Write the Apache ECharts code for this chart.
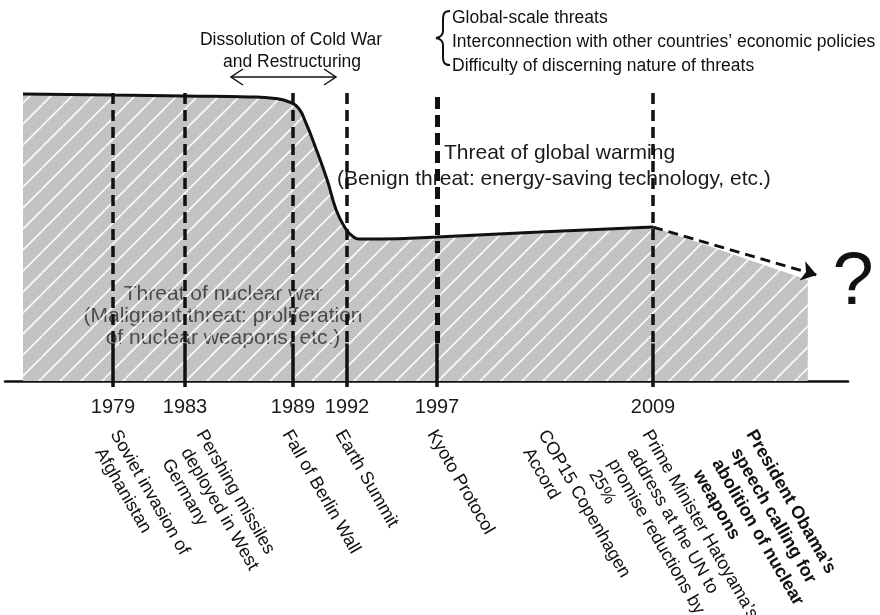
<!DOCTYPE html>
<html><head><meta charset="utf-8">
<script src="https://cdn.jsdelivr.net/npm/echarts@6/dist/echarts.min.js"></script>
<style>html,body{margin:0;padding:0;background:#fff}#c{width:880px;height:615px}</style>
</head><body><div id="c"></div>
<script>
// ---------------- data ----------------
const curveYears  = [1974, 1979, 1983, 1986.6, 1988, 1988.8, 1989.3, 1989.7, 1990.2, 1990.9, 1991.4, 1991.9, 1992.3, 1992.8, 1993.8, 1997, 2002.7, 2009];
const curveValues = [95.7, 95.3, 95.0, 94.7, 94.2, 93.0, 91.0, 86.3, 78.7, 67.0, 57.0, 51.0, 48.3, 47.3, 47.3, 48.0, 49.7, 51.3];
const futureYears  = [2009, 2017.6];
const futureValues = [51.3, 33.7];
const projectionYears  = [2009, 2018.1];
const projectionValues = [51.3, 35.3];
const markerYears = [1979, 1983, 1989, 1992, 1997, 2009];
const yearTickLabels = ['1979', '1983', '1989', '1992', '1997', '2009'];
const eventYears = [1979, 1983, 1989, 1992, 1997, 2009, 2009, 2009];
const eventLabels = [
  'Soviet invasion of\nAfghanistan',
  'Pershing missiles\ndeployed in West\nGermany',
  'Fall of Berlin Wall',
  'Earth Summit',
  'Kyoto Protocol',
  'COP15 Copenhagen\nAccord',
  'Prime Minister Hatoyama\u2019s\naddress at the UN to\npromise reductions by\n25%',
  'President Obama\u2019s\nspeech calling for\nabolition of nuclear\nweapons'
];
const eventBold = [false, false, false, false, false, false, false, true];
const nuclearText = ['Threat of nuclear war', '(Malignant threat: proliferation', 'of nuclear weapons, etc.)'];
const warmingText = ['Threat of global warming', '(Benign threat: energy-saving technology, etc.)'];
const coldWarText = ['Dissolution of Cold War', 'and Restructuring'];
const threatNotes = ['Global-scale threats', 'Interconnection with other countries\u2019 economic policies', 'Difficulty of discerning nature of threats'];

// ---------------- layout / style ----------------
const FONT = '"Liberation Sans", Arial, Helvetica, sans-serif';
const markerTop = [96, 96, 96, 96, 94.7, 96];
const markerSolidTop = 12.5;
const markerWidth = [3.5, 3.5, 3.5, 3.5, 5, 3.5];
const markerDash = [[11, 6], [11, 6], [11, 6], [11, 6], [12, 6], [11, 6]];
const labelDx = [9, 23, 1, 0, 2, -103, 1, 105];
const labelDy = 46;
const LABEL_ANGLE = Math.PI / 3;   // 60 degrees, clockwise
const LABEL_LINE = 22;             // line spacing of rotated labels
const LABEL_SHIFT = 8;             // along-text shift of continuation lines

function hatchCanvas() {
  const S = 21;
  const c = document.createElement('canvas');
  c.width = S; c.height = S;
  const g = c.getContext('2d');
  g.strokeStyle = 'rgba(255,255,255,0.92)';
  g.lineWidth = 1.6;
  for (let k = -1; k <= 1; k++) {
    g.beginPath(); g.moveTo(k * S, S); g.lineTo(k * S + S, 0); g.stroke();
  }
  return c;
}
const hatch = { image: hatchCanvas(), repeat: 'repeat' };
const GRAY = '#c3c3c3';

const zip = (a, b) => a.map((v, i) => [v, b[i]]);

const markerLines = [];
markerYears.forEach((yr, i) => {
  markerLines.push({ coords: [[yr, markerTop[i]], [yr, markerSolidTop]],
    lineStyle: { color: '#111', width: markerWidth[i], type: markerDash[i] } });
  markerLines.push({ coords: [[yr, markerSolidTop], [yr, 0]],
    lineStyle: { color: '#111', width: 3.5, type: 'solid' } });
});

const option = {
  animation: false,
  backgroundColor: '#fff',
  grid: { left: 5, right: 32, top: 81, bottom: 234 },
  xAxis: {
    type: 'value', min: 1973, max: 2019.8333,
    axisLine: { show: true, lineStyle: { color: '#111', width: 2.5 } },
    axisTick: { show: true, customValues: markerYears, length: 6, lineStyle: { color: '#111', width: 3.5 } },
    axisLabel: { show: true, customValues: markerYears, margin: 16,
      formatter: v => yearTickLabels[markerYears.indexOf(v)] || '',
      fontSize: 20, fontFamily: FONT, color: '#1a1a1a' },
    splitLine: { show: false }
  },
  yAxis: { type: 'value', min: 0, max: 100, show: false },
  series: [
    { type: 'line', name: 'grayMain', data: zip(curveYears, curveValues), smooth: 0.5,
      showSymbol: false, lineStyle: { opacity: 0 }, areaStyle: { color: GRAY, opacity: 1 }, z: 1, silent: true },
    { type: 'line', name: 'grayFuture', data: zip(futureYears, futureValues),
      showSymbol: false, lineStyle: { opacity: 0 }, areaStyle: { color: GRAY, opacity: 1 }, z: 1, silent: true },
    { type: 'line', name: 'hatchMain', data: zip(curveYears, curveValues), smooth: 0.5,
      showSymbol: false, lineStyle: { color: '#111', width: 3 }, areaStyle: { color: hatch, opacity: 1 }, z: 3, silent: true },
    { type: 'line', name: 'hatchFuture', data: zip(futureYears, futureValues),
      showSymbol: false, lineStyle: { opacity: 0 }, areaStyle: { color: hatch, opacity: 1 }, z: 3, silent: true },
    { type: 'lines', name: 'projection', coordinateSystem: 'cartesian2d', z: 4, silent: true,
      symbol: ['none', 'arrow'], symbolSize: 15,
      lineStyle: { color: '#111', width: 3, type: [10, 6], opacity: 1 },
      data: [{ coords: zip(projectionYears, projectionValues) }] },
    { type: 'lines', name: 'markers', coordinateSystem: 'cartesian2d', z: 5, silent: true,
      symbol: ['none', 'none'],
      lineStyle: { opacity: 1 },
      data: markerLines }
  ]
};

const chart = echarts.init(document.getElementById('c'), null, { renderer: 'canvas' });
chart.setOption(option);

const els = [];
const stroke = { stroke: '#111', lineWidth: 1.5, fill: null };
// cold war annotation
els.push({ type: 'text', x: 291, y: 40, z: 2, style: { text: coldWarText[0], font: '17.5px ' + FONT, fill: '#111', align: 'center', verticalAlign: 'middle' } });
els.push({ type: 'text', x: 292, y: 62, z: 2, style: { text: coldWarText[1], font: '17.5px ' + FONT, fill: '#111', align: 'center', verticalAlign: 'middle' } });
els.push({ type: 'line', z: 2, shape: { x1: 231, y1: 77, x2: 336, y2: 77 }, style: stroke });
els.push({ type: 'polyline', z: 2, shape: { points: [[243, 69], [231, 77], [243, 85]] }, style: stroke });
els.push({ type: 'polyline', z: 2, shape: { points: [[324, 69], [336, 77], [324, 85]] }, style: stroke });
// brace
const braceStyle = { stroke: '#111', lineWidth: 2, fill: null };
els.push({ type: 'bezierCurve', z: 2, shape: { x1: 450, y1: 11, cpx1: 444, cpy1: 11, cpx2: 443, cpy2: 14, x2: 443, y2: 20 }, style: braceStyle });
els.push({ type: 'line', z: 2, shape: { x1: 443, y1: 20, x2: 443, y2: 31 }, style: braceStyle });
els.push({ type: 'bezierCurve', z: 2, shape: { x1: 443, y1: 31, cpx1: 443, cpy1: 35, cpx2: 441, cpy2: 37, x2: 436, y2: 38 }, style: braceStyle });
els.push({ type: 'bezierCurve', z: 2, shape: { x1: 436, y1: 38, cpx1: 441, cpy1: 39, cpx2: 443, cpy2: 41, x2: 443, y2: 45 }, style: braceStyle });
els.push({ type: 'line', z: 2, shape: { x1: 443, y1: 45, x2: 443, y2: 57 }, style: braceStyle });
els.push({ type: 'bezierCurve', z: 2, shape: { x1: 443, y1: 57, cpx1: 443, cpy1: 62, cpx2: 444, cpy2: 65, x2: 450, y2: 65 }, style: braceStyle });
threatNotes.forEach((t, i) => {
  els.push({ type: 'text', x: 452, y: 18 + i * 24, z: 2, style: { text: t, font: '17.5px ' + FONT, fill: '#111', align: 'left', verticalAlign: 'middle' } });
});
// global warming
els.push({ type: 'text', x: 444, y: 153, z: 2, style: { text: warmingText[0], font: '21px ' + FONT, fill: '#1a1a1a', align: 'left', verticalAlign: 'middle' } });
els.push({ type: 'text', x: 337, y: 179, z: 2, style: { text: warmingText[1], font: '21px ' + FONT, fill: '#1a1a1a', align: 'left', verticalAlign: 'middle' } });
// nuclear
nuclearText.forEach((t, i) => {
  els.push({ type: 'text', x: 223, y: 294 + i * 22, z: 2, style: { text: t, font: '21px ' + FONT, fill: '#4a4a4a', align: 'center', verticalAlign: 'middle' } });
});
// question mark
els.push({ type: 'text', x: 853, y: 284, z: 2, style: { text: '?', font: '74px ' + FONT, fill: '#111', align: 'center', verticalAlign: 'middle' } });
// rotated event labels, anchored on the x axis through the chart's scale
const ca = Math.cos(LABEL_ANGLE), sa = Math.sin(LABEL_ANGLE);
eventYears.forEach((yr, i) => {
  const p = chart.convertToPixel({ xAxisIndex: 0, yAxisIndex: 0 }, [yr, 0]);
  const ax = p[0] + labelDx[i], ay = p[1] + labelDy;
  eventLabels[i].split('\n').forEach((line, k) => {
    const shift = k > 0 ? LABEL_SHIFT : 0;
    const x = ax + k * LABEL_LINE * (-sa) + shift * ca;
    const y = ay + k * LABEL_LINE * ca + shift * sa;
    els.push({ type: 'text', x: x, y: y, rotation: -LABEL_ANGLE, z: 2,
      style: { text: line, font: (eventBold[i] ? 'bold ' : '') + '18px ' + FONT, fill: '#111',
        align: 'left', verticalAlign: 'top' } });
  });
});
chart.setOption({ graphic: { elements: els } });
</script>
</body></html>
